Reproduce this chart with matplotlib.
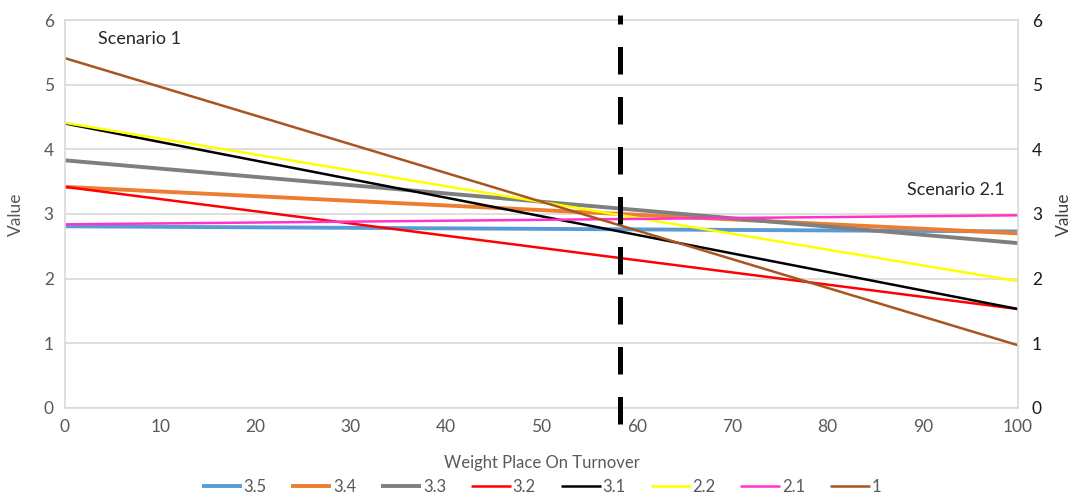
import matplotlib.pyplot as plt

plt.rcParams['font.family'] = ['Lato', 'DejaVu Sans']

# Datos (valor en peso 0 y peso 100)
series = ["3.5", "3.4", "3.3", "3.2", "3.1", "2.2", "2.1", "1"]
x_pts = [0, 100]
start_vals = [2.81, 3.42, 3.83, 3.42, 4.40, 4.41, 2.84, 5.41]
end_vals = [2.73, 2.70, 2.55, 1.53, 1.53, 1.96, 2.98, 0.97]
colors = ["#5B9BD5", "#ED7D31", "#7F7F7F", "#FF0000", "#000000", "#FFFF00", "#FF33CC", "#A8561E"]
widths = [2.8, 2.8, 2.8, 1.8, 1.8, 1.8, 1.8, 1.8]
split_x = 58.2

fig = plt.figure(figsize=(10.7, 5.04), dpi=100)
ax = fig.add_axes([0.0607, 0.1905, 0.8907, 0.7698])

for name, a, b, c, w in zip(series, start_vals, end_vals, colors, widths):
    ax.plot(x_pts, [a, b], color=c, lw=w, label=name, solid_capstyle='butt')

# Línea divisoria
ax.plot([split_x, split_x], [-0.25, 6.08], color='black', lw=3.6,
        dashes=(5.5, 4.5), clip_on=False, zorder=5)

ax.set_xlim(0, 100)
ax.set_ylim(0, 6)
ax.set_xticks(range(0, 101, 10))
ax.set_yticks(range(0, 7))
ax.grid(axis='y', color='#D9D9D9', lw=1.2)
ax.set_axisbelow(True)
for s in ax.spines.values():
    s.set_color('#D9D9D9')
    s.set_linewidth(1.2)
ax.tick_params(length=0, labelsize=12.5, colors='#595959', pad=8)
ax.set_xlabel("Weight Place On Turnover", fontsize=12, color='#595959', labelpad=14)
ax.set_ylabel("Value", fontsize=12.5, color='#595959', labelpad=14)

ax2 = ax.twinx()
ax2.set_ylim(0, 6)
ax2.set_yticks(range(0, 7))
ax2.tick_params(length=0, labelsize=12.5, colors='#1A1A1A', pad=10)
for s in ax2.spines.values():
    s.set_visible(False)
ax2.set_ylabel("Value", fontsize=12.5, color='#404040', rotation=90, labelpad=10)

ax.text(3.5, 5.7, "Scenario 1", fontsize=13, color='#262626', va='center')
ax.text(98.6, 3.37, "Scenario 2.1", fontsize=13, color='#262626', va='center', ha='right')

ax.legend(loc='upper center', bbox_to_anchor=(0.5, -0.145), ncol=8, frameon=False,
          fontsize=12, handlelength=2.4, handletextpad=0.1, columnspacing=1.5,
          labelcolor='#595959')

fig.savefig("out.png", dpi=100)
